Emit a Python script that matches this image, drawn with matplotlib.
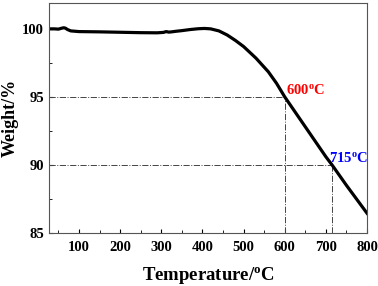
import matplotlib
matplotlib.use("Agg")
import matplotlib.pyplot as plt

plt.rcParams['font.family'] = 'Liberation Serif'
plt.rcParams['font.weight'] = 'bold'
plt.rcParams['mathtext.fontset'] = 'custom'
plt.rcParams['mathtext.rm'] = 'Liberation Serif:bold'
plt.rcParams['mathtext.it'] = 'Liberation Serif:bold'
plt.rcParams['mathtext.bf'] = 'Liberation Serif:bold'

temp = [27, 40, 50, 58, 63, 67, 72, 80, 100, 150, 200, 250, 290, 305, 312, 318, 325,
        335, 350, 370, 390, 405, 420, 440, 460, 480, 500, 530, 560, 580, 600, 650,
        700, 715, 750, 800]
weight = [100.0, 100.0, 99.98, 100.05, 100.08, 100.05, 99.95, 99.85, 99.8, 99.78,
          99.75, 99.72, 99.71, 99.74, 99.8, 99.76, 99.78, 99.82, 99.87, 99.95, 100.01,
          100.03, 100.0, 99.85, 99.55, 99.15, 98.7, 97.85, 96.85, 96.0, 95.0, 92.8,
          90.6, 90.0, 88.5, 86.45]

marks = [600, 715]
mark_w = [95, 90]
mark_txt = ['600$^{\\mathrm{o}}$C', '715$^{\\mathrm{o}}$C']
mark_col = ['#ff0000', '#0000ff']

fig = plt.figure(figsize=(3.78, 2.86), dpi=100)
ax = fig.add_axes([0.1296, 0.1853, 0.8414, 0.8042])

for t, w in zip(marks, mark_w):
    ax.plot([27, t], [w, w], color='#444444', lw=0.7, ls='-.')
    ax.plot([t, t], [85, w], color='#444444', lw=0.7, ls='-.')

ax.plot(temp, weight, color='black', lw=2.3)

ax.text(604, 95.25, mark_txt[0], color=mark_col[0], fontsize=10.5, fontweight='bold')
ax.text(707, 90.25, mark_txt[1], color=mark_col[1], fontsize=10.5, fontweight='bold')

ax.set_xlim(27, 800)
ax.set_ylim(85, 101.9)
ax.set_xticks([100, 200, 300, 400, 500, 600, 700, 800])
ax.set_xticks([50, 150, 250, 350, 450, 550, 650, 750], minor=True)
ax.set_yticks([85, 90, 95, 100])
ax.set_yticks([87.5, 92.5, 97.5], minor=True)
ax.tick_params(direction='in', which='both', labelsize=10.5, length=3)
ax.tick_params(which='minor', length=2)
ax.tick_params(axis='x', pad=6)
for lab in ax.get_xticklabels() + ax.get_yticklabels():
    lab.set_fontweight('bold')
for s in ax.spines.values():
    s.set_color('#555555')
    s.set_linewidth(0.8)

ax.set_xlabel('Temperature/$^{\\mathrm{o}}$C', fontsize=13.5, fontweight='bold', labelpad=8)
ax.set_ylabel('Weight/%', fontsize=13, fontweight='bold', labelpad=2.5)

fig.savefig('out.png', dpi=100)
